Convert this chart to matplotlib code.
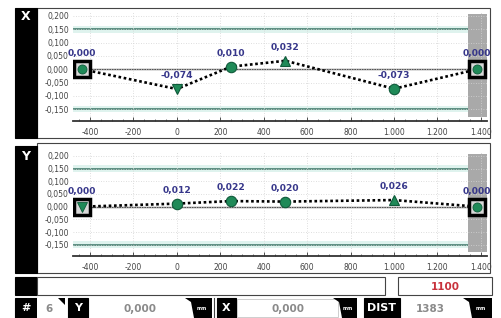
import matplotlib
matplotlib.use("Agg")
import matplotlib.pyplot as plt
from matplotlib.patches import Rectangle, Polygon
from matplotlib.ticker import FuncFormatter, MultipleLocator

# measurement points along the rail (mm) and deviations
pos = [-435, 0, 250, 500, 1000, 1383]
dev_x = [0.000, -0.074, 0.010, 0.032, -0.073, 0.000]
dev_y = [0.000, 0.012, 0.022, 0.020, 0.026, 0.000]
mark_x = ['s', 'v', 'o', '^', 'o', 's']
mark_y = ['sv', 'o', 'o', 'o', '^', 's']

y_ticks = [-0.15, -0.10, -0.05, 0.0, 0.05, 0.10, 0.15, 0.20]
x_ticks = [-400, -200, 0, 200, 400, 600, 800, 1000, 1200, 1400]
tol = 0.15

count_no = '6'
y_val = '0,000'
x_val = '0,000'
dist_val = '1383'
setpoint = '1100'

GREEN = '#1f8a58'
LBL = '#36368a'
W, H = 502, 318

fig = plt.figure(figsize=(W / 100, H / 100), dpi=100)
fig.patch.set_facecolor('white')

# background axes in pixel coordinates for the UI chrome
bg = fig.add_axes([0, 0, 1, 1])
bg.set_xlim(0, W)
bg.set_ylim(H, 0)
bg.axis('off')


def box(x0, y0, x1, y1, fc='white', ec='#444444', lw=0.8):
    bg.add_patch(Rectangle((x0, y0), x1 - x0, y1 - y0, facecolor=fc,
                           edgecolor=ec, lw=lw))


def tab(x0, x1, y0, y1, txt):
    # black 'mm' tag with slanted left edge
    bg.add_patch(Polygon([(x0, y0), (x1, y0), (x1, y1), (x0 + 9, y1),
                          (x0 + 6, y0 + 4)], closed=True, fc='black', ec='none'))
    bg.text((x0 + x1) / 2 + 3, (y0 + y1) / 2 + 1, txt, color='white',
            fontsize=3.5, ha='center', va='center', fontweight='bold')


# panel frames
box(37, 8, 490, 138)
box(15, 8, 37, 138, fc='black', ec='black')
bg.text(26, 17, 'X', color='white', fontsize=9, fontweight='bold',
        ha='center', va='center')
box(37, 143, 490, 273)
box(15, 146, 37, 273, fc='black', ec='black')
bg.text(26, 156, 'Y', color='white', fontsize=9, fontweight='bold',
        ha='center', va='center')

# status row
box(15, 277, 37, 295, fc='black', ec='black')
box(37, 277, 385, 295)
box(398, 277, 492, 295)
bg.text(445, 286.5, setpoint, color='#c8323c', fontsize=7.5,
        fontweight='bold', ha='center', va='center')

# readout row
box(15, 298, 37, 318, fc='black', ec='black')
bg.text(26, 308, '#', color='white', fontsize=8, fontweight='bold',
        ha='center', va='center')
box(37, 298, 65, 318, ec='none')
bg.add_patch(Polygon([(58, 298), (65, 298), (65, 305)], closed=True,
                     fc='black', ec='none'))
bg.text(49, 308.5, count_no, color='#8a8a8a', fontsize=7.5,
        fontweight='bold', ha='center', va='center')

box(68, 298, 88, 318, fc='black', ec='black')
bg.text(78, 308, 'Y', color='white', fontsize=8, fontweight='bold',
        ha='center', va='center')
bg.text(140, 308.5, y_val, color='#8a8a8a', fontsize=7.5,
        fontweight='bold', ha='center', va='center')
tab(185, 212, 298, 318, 'mm')
bg.plot([214, 214], [298, 318], color='#444444', lw=0.8)

box(217, 298, 236, 318, fc='black', ec='black')
bg.text(226.5, 308, 'X', color='white', fontsize=8, fontweight='bold',
        ha='center', va='center')
box(237, 299, 338, 317, ec='#bbbbbb', lw=0.5)
bg.text(288, 308.5, x_val, color='#8a8a8a', fontsize=7.5,
        fontweight='bold', ha='center', va='center')
tab(333, 357, 298, 318, 'mm')

box(364, 298, 400, 318, fc='black', ec='black')
bg.text(382, 308, 'DIST', color='white', fontsize=8, fontweight='bold',
        ha='center', va='center')
bg.text(430, 308.5, dist_val, color='#8a8a8a', fontsize=7.5,
        fontweight='bold', ha='center', va='center')
tab(463, 492, 298, 318, 'mm')


def fmt_x(v, _):
    return f"{v:,.0f}".replace(',', '.')


def fmt_y(v, _):
    return f"{v:.3f}".replace('.', ',')


def panel(top, bot, vals, marks):
    ax = fig.add_axes([73 / W, 1 - bot / H, (487 - 73) / W, (bot - top) / H])
    ax.patch.set_alpha(0)
    ax.set_xlim(-478, 1428)
    ax.set_ylim(-0.194, 0.215)
    for s in ['top', 'left', 'right']:
        ax.spines[s].set_visible(False)
    ax.spines['bottom'].set_color('#333333')
    ax.spines['bottom'].set_linewidth(1.3)
    ax.set_xticks(x_ticks)
    ax.set_yticks(y_ticks)
    ax.xaxis.set_minor_locator(MultipleLocator(50))
    ax.xaxis.set_major_formatter(FuncFormatter(fmt_x))
    ax.yaxis.set_major_formatter(FuncFormatter(fmt_y))
    ax.tick_params(axis='x', direction='in', length=3, width=0.6,
                   colors='#333333', labelsize=5.5, pad=5,
                   labelcolor='#444444')
    ax.tick_params(axis='x', which='minor', direction='in', length=1.5,
                   width=0.5, color='#333333')
    ax.tick_params(axis='y', length=0, labelsize=5.5, pad=3,
                   labelcolor='#444444')
    ax.grid(True, color='#d4d4d4', lw=0.6, ls=(0, (1, 2)))

    # tolerance bands and lines
    for t in (tol, -tol):
        ax.axhspan(t - 0.012, t + 0.014, color='#dff3ee', lw=0, zorder=0)
        ax.axhline(t, color='#3b7566', lw=1.1, zorder=1)
    ax.axhline(0, color='#555555', lw=1.0, zorder=1)
    ax.axvspan(1342, 1430, ymin=0.035, ymax=0.98, color='#a9a9a9',
               lw=0, zorder=1)

    ax.plot(pos, vals, color='black', lw=1.9, ls=(0, (1, 1)), zorder=3)
    for px, v, m in zip(pos, vals, marks):
        if m.startswith('s'):
            ax.plot(px, v, marker='s', ms=12, mfc='#d8d8d8', mec='black',
                    mew=2.5, zorder=4)
            inner = 'v' if m == 'sv' else 'o'
            ax.plot(px, v, marker=inner, ms=6.5, mfc=GREEN, mec='#0f5a3a',
                    mew=0.6, zorder=5)
        else:
            ax.plot(px, v, marker=m, ms=7.5, mfc=GREEN, mec='#0f5a3a',
                    mew=0.8, zorder=5)
        off = 8 if m.startswith('s') else 6.5
        ax.annotate(fmt_y(v, None), (px, v), xytext=(0, off),
                    textcoords='offset points', ha='center', va='bottom',
                    color=LBL, fontsize=6.6, fontweight='bold',
                    annotation_clip=False, zorder=6)
    return ax


panel(12, 121, dev_x, mark_x)
panel(152, 256, dev_y, mark_y)

fig.savefig('out.png', dpi=100, facecolor='white')
